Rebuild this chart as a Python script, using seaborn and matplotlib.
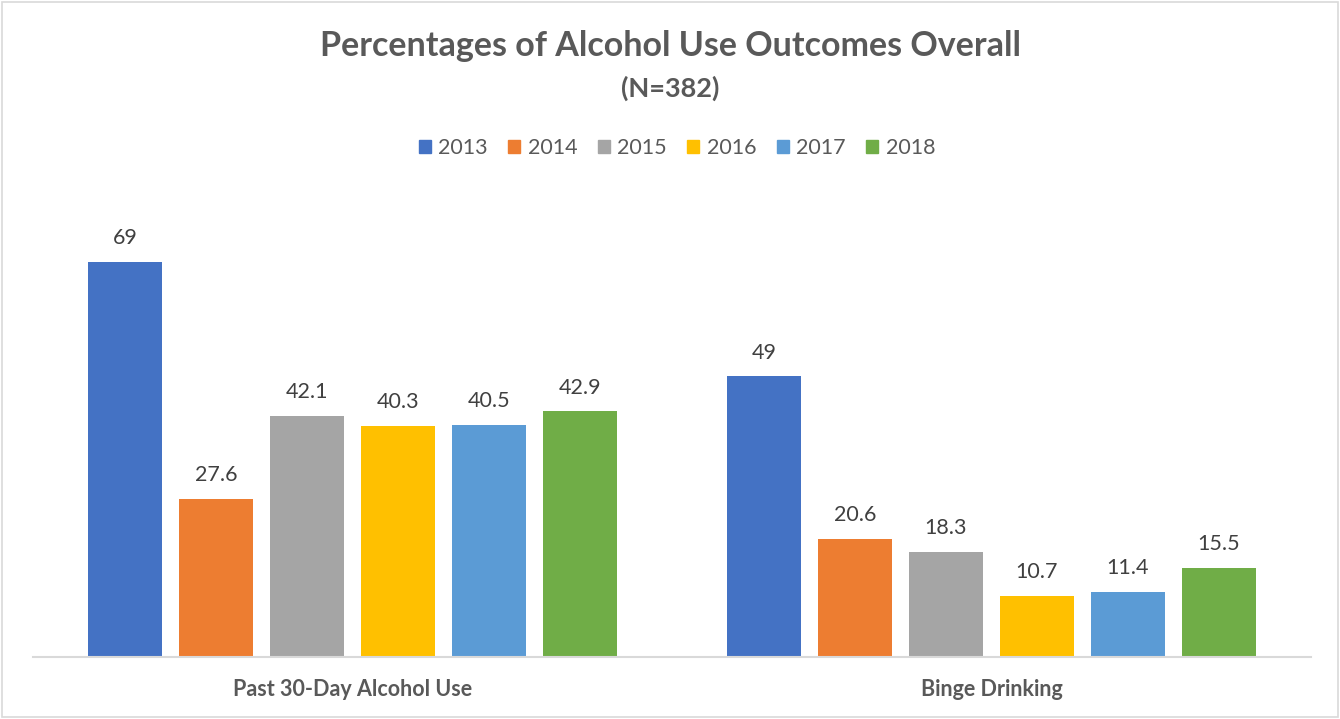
import matplotlib
matplotlib.use("Agg")
import matplotlib.pyplot as plt
from matplotlib.patches import Rectangle
import seaborn as sns
import pandas as pd

categories = ["Past 30-Day Alcohol Use", "Binge Drinking"]
years = ["2013", "2014", "2015", "2016", "2017", "2018"]
past30 = [69, 27.6, 42.1, 40.3, 40.5, 42.9]
binge = [49, 20.6, 18.3, 10.7, 11.4, 15.5]
colors = ["#4472C4", "#ED7D31", "#A5A5A5", "#FFC000", "#5B9BD5", "#70AD47"]

rows = []
for cat, vals in zip(categories, [past30, binge]):
    for yr, v in zip(years, vals):
        rows.append({"Outcome": cat, "Year": yr, "Percent": v})
df = pd.DataFrame(rows)

sns.set_theme(style="white")
plt.rcParams["font.family"] = ["Lato", "DejaVu Sans"]

fig = plt.figure(figsize=(13.4, 7.19), dpi=100)
ax = fig.add_axes([33 / 1340, (719 - 657) / 719, 1278 / 1340, 458 / 719])

sns.barplot(data=df, x="Outcome", y="Percent", hue="Year", hue_order=years,
            order=categories, palette=colors, width=0.854, gap=0.18,
            saturation=1, ax=ax, legend=False, errorbar=None, linewidth=0)

for cont in ax.containers:
    ax.bar_label(cont, labels=[f"{v:g}" for v in cont.datavalues],
                 padding=10, fontsize=15.5, color="#404040")

ax.set_xlim(-0.5, 1.5)
ax.set_ylim(0, 80)
ax.set_xlabel("")
ax.set_ylabel("")
ax.set_yticks([])
ax.tick_params(axis="x", length=0, pad=16)
for lbl in ax.get_xticklabels():
    lbl.set_fontsize(15.5)
    lbl.set_fontweight("bold")
    lbl.set_color("#595959")
for side in ["top", "left", "right"]:
    ax.spines[side].set_visible(False)
ax.spines["bottom"].set_color("#D9D9D9")
ax.spines["bottom"].set_linewidth(1.5)

# Legend row
handles = [Rectangle((0, 0), 1, 1, color=c) for c in colors]
fig.legend(handles, years, loc="center", bbox_to_anchor=(677 / 1340, 1 - 148 / 719),
           ncol=6, frameon=False, fontsize=15.5, handlelength=0.55, handleheight=0.55,
           handletextpad=0.35, columnspacing=0.95, labelcolor="#595959")

fig.text(670 / 1340, 1 - 46 / 719, "Percentages of Alcohol Use Outcomes Overall",
         ha="center", va="center", fontsize=24.5, fontweight="bold", color="#595959")
fig.text(670 / 1340, 1 - 88 / 719, "(N=382)",
         ha="center", va="center", fontsize=19.5, fontweight="bold", color="#595959")

# Chart frame
fig.patches.append(Rectangle((2 / 1340, 2 / 719), 1336 / 1340, 715 / 719,
                             transform=fig.transFigure, fill=False,
                             edgecolor="#D9D9D9", linewidth=1.2))

fig.savefig("out.png", dpi=100, facecolor="white")
